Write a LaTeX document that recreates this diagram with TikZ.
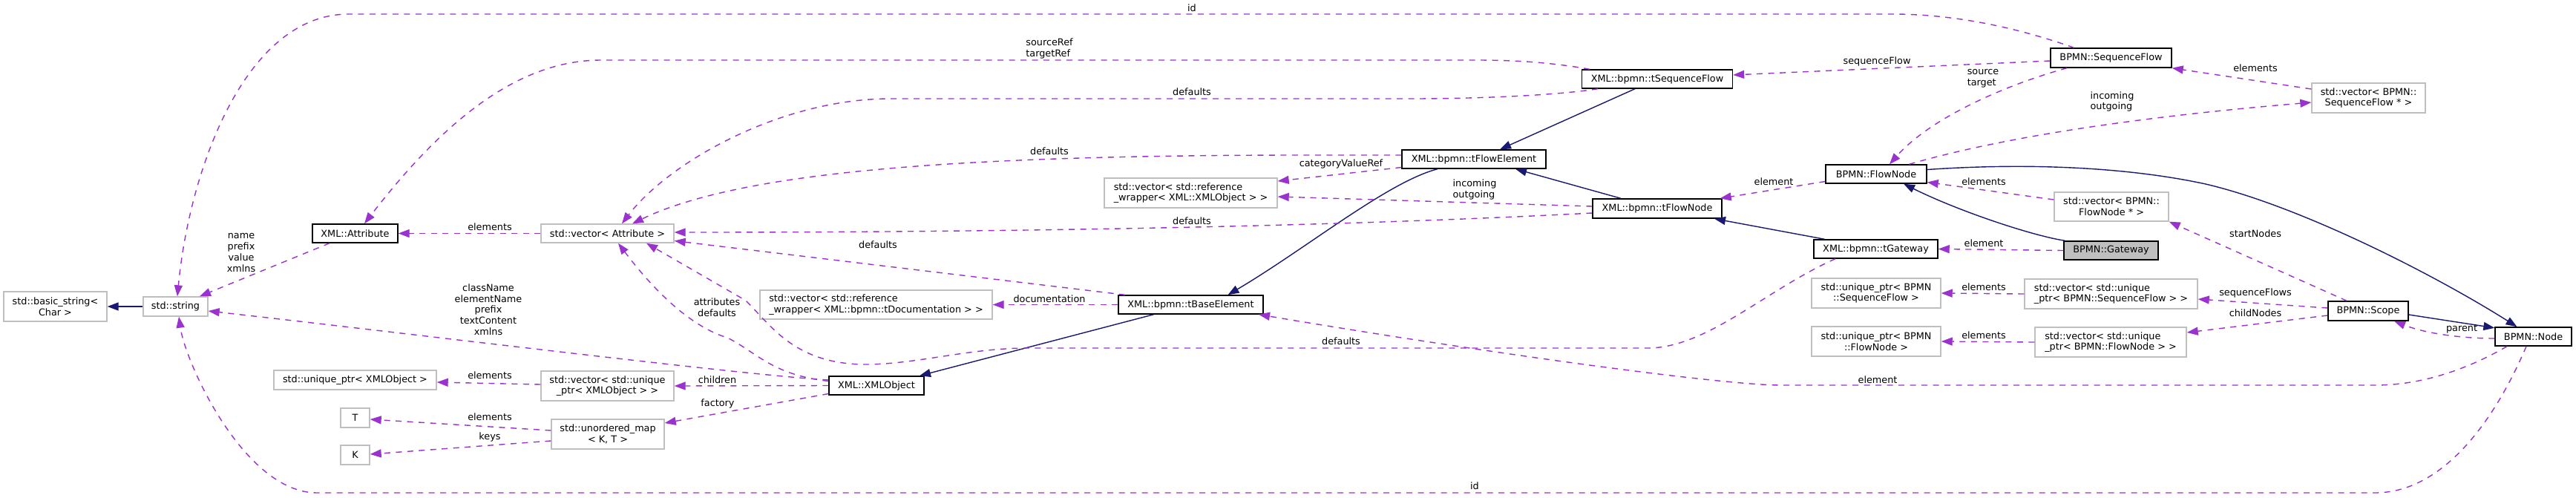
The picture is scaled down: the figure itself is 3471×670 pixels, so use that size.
\documentclass[tikz,border=0pt]{standalone}
\usepackage{fontspec}
\setmainfont{DejaVu Sans}
\usetikzlibrary{arrows.meta,calc}
\definecolor{usecol}{HTML}{9A32CD}
\definecolor{inhcol}{HTML}{191970}
\definecolor{greyb}{HTML}{BFBFBF}
\tikzset{
 box/.style={draw, fill=white, line width=1.4pt, inner sep=0pt, font=\fontsize{12.8}{14.7}\selectfont, align=center},
 sz/.style 2 args={minimum width=#1pt, minimum height=#2pt},
 docbox/.style={box, draw=black},
 extbox/.style={box, draw=greyb},
 curbox/.style={box, draw=black, fill=greyb},
 lbl/.style={inner sep=0pt, font=\fontsize{12.8}{14.7}\selectfont, align=center},
 inh/.style={draw=inhcol, line width=1.4pt, -{Triangle[length=15pt,width=11pt]}},
 usg/.style={draw=usecol, line width=1.4pt, dash pattern=on 8pt off 7.5pt, -{Triangle[length=15pt,width=11pt]}},
}
\begin{document}
\begin{tikzpicture}[x=1pt,y=-1pt]
\fill[white] (0,0) rectangle (3471,670);
\useasboundingbox (0,0) rectangle (3471,670);

% nodes
\node[extbox, sz={139}{40}] (bstr) at (74.5,413) {std::basic\_string<\\Char >};
\node[extbox, sz={87}{26}] (str) at (236.5,413) {std::string};
\node[docbox, sz={115}{25}] (attr) at (478.5,314.5) {XML::Attribute};
\node[extbox, sz={219}{26}] (uxo) at (478.5,512) {std::unique\_ptr< XMLObject >};
\node[extbox, sz={39}{26}] (T) at (478.5,563) {T};
\node[extbox, sz={39}{26}] (K) at (478.5,613) {K};
\node[extbox, sz={179}{25}] (vattr) at (818.5,314.5) {std::vector< Attribute >};
\node[extbox, sz={179}{40}] (vuxo) at (818.5,520) {std::vector< std::unique\\\_ptr< XMLObject > >};
\node[extbox, sz={152}{40}] (umap) at (819,585) {std::unordered\_map\\< K, T >};
\node[docbox, sz={128}{25}] (xo) at (1181,519.5) {XML::XMLObject};
\node[extbox, sz={313}{39}, align=left] (vdoc) at (1180.5,410.5) {std::vector< std::reference\\\_wrapper< XML::bpmn::tDocumentation > >};
\node[docbox, sz={195}{25}] (tbe) at (1604.5,410.5) {XML::bpmn::tBaseElement};
\node[extbox, sz={233}{40}, align=left] (vrxo) at (1604.5,260) {std::vector< std::reference\\\_wrapper< XML::XMLObject > >};
\node[docbox, sz={203}{25}] (tsf) at (2233,106.5) {XML::bpmn::tSequenceFlow};
\node[docbox, sz={194}{25}] (tfe) at (1986,214.5) {XML::bpmn::tFlowElement};
\node[docbox, sz={174}{26}] (tfn) at (2233,281) {XML::bpmn::tFlowNode};
\node[docbox, sz={163}{26}] (bsf) at (2844.5,78) {BPMN::SequenceFlow};
\node[docbox, sz={136}{25}] (bfn) at (2528,234.5) {BPMN::FlowNode};
\node[docbox, sz={167}{25}] (tgw) at (2527.5,335.5) {XML::bpmn::tGateway};
\node[curbox, sz={127}{25}] (bgw) at (2844.5,337.5) {BPMN::Gateway};
\node[extbox, sz={154}{39}] (vfn) at (2845,278.5) {std::vector< BPMN::\\FlowNode * >};
\node[extbox, sz={174}{40}] (usf) at (2528,395) {std::unique\_ptr< BPMN\\::SequenceFlow >};
\node[extbox, sz={174}{40}] (ufn) at (2528,460) {std::unique\_ptr< BPMN\\::FlowNode >};
\node[extbox, sz={233}{40}, align=left] (vusf) at (2844.5,396) {std::vector< std::unique\\\_ptr< BPMN::SequenceFlow > >};
\node[extbox, sz={204}{40}, align=left] (vufn) at (2844,461) {std::vector< std::unique\\\_ptr< BPMN::FlowNode > >};
\node[extbox, sz={153}{40}] (vsf) at (3191.5,132) {std::vector< BPMN::\\SequenceFlow * >};
\node[docbox, sz={108}{26}] (bscope) at (3191,419) {BPMN::Scope};
\node[docbox, sz={103}{25}] (bnode) at (3413.5,453.5) {BPMN::Node};

% inheritance edges
\draw[inh] (str.west) -- (bstr.east);
\draw[inh] ($(tbe.south)+(-50,0)$) -- ($(xo.north)+(58,0)$);
\draw[inh] ($(tfe.south)+(-49,0)$) .. controls (1870,245) and (1760,335) .. ($(tbe.north)+(50,0)$);
\draw[inh] ($(tsf.south)+(-30,0)$) -- ($(tfe.north)+(35,0)$);
\draw[inh] ($(tfn.north)+(-49,0)$) -- ($(tfe.south)+(56,0)$);
\draw[inh] ($(tgw.north)+(-69,0)$) -- ($(tfn.south)+(77,0)$);
\draw[inh] ($(bgw.north)+(-62,0)$) .. controls (2740,318) and (2640,285) .. ($(bfn.south)+(37,0)$);
\draw[inh] ($(bfn.east)+(0,-6)$) .. controls (2750,218) and (2880,228) .. (2972,248) .. controls (3100,278) and (3280,370) .. ($(bnode.north)+(-22,0)$);
\draw[inh] ($(bscope.east)+(0,5)$) -- ($(bnode.north west)+(0,1.5)$);

% usage edges
\draw[usg] ($(bsf.north)+(-50,0)$) .. controls (2740,45) and (2650,19) .. (2550,19) -- (470,19) .. controls (330,19) and (255,230) .. ($(str.north)+(2.5,0)$);
\draw[usg] ($(bnode.south)+(-9.5,0)$) .. controls (3360,570) and (3290,664) .. (3200,664) -- (427,664) .. controls (330,664) and (250,490) .. ($(str.south)+(4.5,0)$);
\draw[usg] ($(attr.south)+(-34.5,0)$) -- ($(str.north)+(32.5,0)$);
\draw[usg] ($(xo.west)+(0,-7.5)$) .. controls (1000,505) and (600,455) .. ($(str.east)+(0,6)$);
\draw[usg] ($(tsf.north)+(-91,0)$) .. controls (2090,84) and (2040,81) .. (1990,81) -- (810,81) .. controls (700,81) and (600,160) .. ($(attr.north)+(12.5,0)$);
\draw[usg] (vattr.west) -- (attr.east);
\draw[usg] ($(tsf.south)+(-80,0)$) .. controls (2100,128) and (2000,133) .. (1900,133) -- (1200,133) .. controls (1050,133) and (900,220) .. ($(vattr.north)+(19.5,0)$);
\draw[usg] ($(tfe.west)+(0,-5.5)$) -- (1760,209) .. controls (1300,209) and (1000,230) .. ($(vattr.north)+(33.5,0)$);
\draw[usg] ($(tfe.west)+(0,11)$) -- ($(vrxo.east)+(0,-16)$);
\draw[usg] ($(tfn.west)+(0,-3)$) -- ($(vrxo.east)+(0,5)$);
\draw[usg] ($(tfn.west)+(0,6)$) .. controls (1900,300) and (1500,313) .. ($(vattr.east)+(0,-1.5)$);
\draw[usg] ($(tbe.north)+(-88.5,0)$) -- ($(vattr.east)+(0,10)$);
\draw[usg] (tbe.west) -- (vdoc.east);
\draw[usg] ($(tgw.south)+(-54.5,0)$) .. controls (2380,390) and (2300,469) .. (2220,469) -- (1380,469) .. controls (1300,470) and (1230,492) .. (1160,491) .. controls (1070,488) and (1040,440) .. (1005,405) -- ($(vattr.south)+(52.5,0)$);
\draw[usg] ($(xo.west)+(0,-6)$) .. controls (1040,505) and (1020,475) .. (980,455) .. controls (930,440) and (880,390) .. ($(vattr.south)+(14.5,0)$);
\draw[usg] (xo.west) -- (vuxo.east);
\draw[usg] ($(xo.west)+(0,11)$) -- ($(umap.east)+(0,-15)$);
\draw[usg] ($(vuxo.west)+(0,-2)$) -- ($(uxo.east)+(0,3)$);
\draw[usg] ($(umap.west)+(0,-5)$) -- ($(T.east)+(0,2)$);
\draw[usg] ($(umap.west)+(0,9)$) -- ($(K.east)+(0,-1)$);
\draw[usg] ($(bsf.west)+(0,4)$) -- ($(tsf.east)+(0,-5.5)$);
\draw[usg] ($(bsf.south)+(-59.5,0)$) .. controls (2700,115) and (2600,160) .. ($(bfn.north)+(18,0)$);
\draw[usg] ($(bfn.west)+(0,10)$) -- ($(tfn.north east)+(-3,0)$);
\draw[usg] ($(vfn.west)+(0,-9.5)$) -- ($(bfn.east)+(0,11)$);
\draw[usg] (bgw.west) -- (tgw.east);
\draw[usg] (vusf.west) -- (usf.east);
\draw[usg] (vufn.west) -- (ufn.east);
\draw[usg] ($(bnode.south)+(-35.5,0)$) .. controls (3320,500) and (3260,519) .. (3200,519) -- (2400,519) .. controls (2320,519) and (2000,475) .. ($(tbe.south)+(91.5,0)$);
\draw[usg] ($(vsf.west)+(0,-12)$) -- (bsf.south east);
\draw[usg] ($(bfn.north)+(44.5,0)$) .. controls (2680,190) and (2850,160) .. ($(vsf.west)+(0,6)$);
\draw[usg] ($(bscope.north)+(-29,0)$) -- (vfn.south east);
\draw[usg] ($(bscope.west)+(0,-4)$) -- ($(vusf.east)+(0,7)$);
\draw[usg] ($(bscope.west)+(0,6)$) -- ($(vufn.east)+(0,-13)$);
\draw[usg] ($(bnode.west)+(0,2.5)$) .. controls (3320,456) and (3270,450) .. ($(bscope.south)+(35,0)$);

% labels
\node[lbl] (lid1) at (1606,11) {id};
\node[lbl, align=left] (lsrc) at (1414,65.5) {sourceRef\\targetRef};
\node[lbl] (ldef1) at (1606,124) {defaults};
\node[lbl] (ldef2) at (1414,204) {defaults};
\node[lbl] (lcat) at (1807,220.5) {categoryValueRef};
\node[lbl, align=left] (linout1) at (1987,255.5) {incoming\\outgoing};
\node[lbl] (ldef3) at (1606,298) {defaults};
\node[lbl] (ldef4) at (1183,330) {defaults};
\node[lbl] (ldoc) at (1414,403) {documentation};
\node[lbl] (lattrdef) at (966,414.5) {attributes\\defaults};
\node[lbl] (lcls) at (658,417) {className\\elementName\\prefix\\textContent\\xmlns};
\node[lbl] (lname) at (325,340.5) {name\\prefix\\value\\xmlns};
\node[lbl] (lel1) at (660,306) {elements};
\node[lbl] (lchild) at (966.5,511.5) {children};
\node[lbl] (lfac) at (967,543.5) {factory};
\node[lbl] (lel2) at (660,506) {elements};
\node[lbl] (lel3) at (660,562) {elements};
\node[lbl] (lkeys) at (660,589) {keys};
\node[lbl] (ldef5) at (1807,460) {defaults};
\node[lbl] (lelem1) at (2530,511.5) {element};
\node[lbl] (lid2) at (1987,655) {id};
\node[lbl] (lsf) at (2529,82.5) {sequenceFlow};
\node[lbl, align=left] (lst) at (2672,106) {source\\target};
\node[lbl] (lelem2) at (2390,245) {element};
\node[lbl] (lel4) at (2673,244.5) {elements};
\node[lbl] (lelem3) at (2673,328) {element};
\node[lbl] (lel5) at (2673,387) {elements};
\node[lbl] (lel6) at (2673,451.5) {elements};
\node[lbl, align=left] (linout2) at (2846,137) {incoming\\outgoing};
\node[lbl] (lel7) at (3039,92) {elements};
\node[lbl] (lstart) at (3039,314.5) {startNodes};
\node[lbl] (lsfs) at (3039,395) {sequenceFlows};
\node[lbl] (lchn) at (3039,422) {childNodes};
\node[lbl] (lpar) at (3317,443.5) {parent};
\end{tikzpicture}
\end{document}
